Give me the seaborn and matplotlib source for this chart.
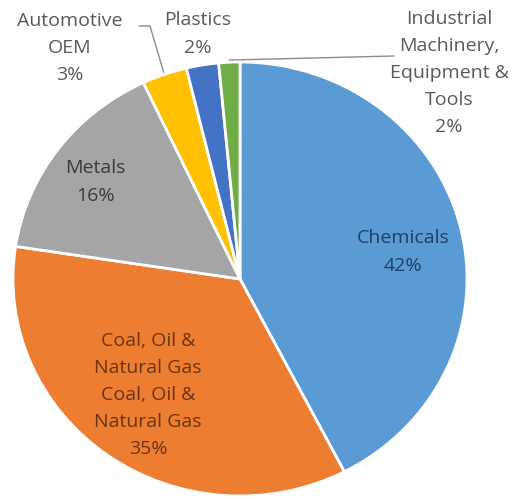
import matplotlib
matplotlib.use('Agg')
from matplotlib import pyplot as plt
import seaborn as sns
import numpy as np

# ---------- DATA ----------
sectors = ['Chemicals', 'Coal, Oil &\nNatural Gas\nCoal, Oil &\nNatural Gas', 'Metals',
           'Automotive\nOEM', 'Plastics', 'Industrial\nMachinery,\nEquipment &\nTools']
shares = [42.4, 35.0, 15.6, 3.2, 2.3, 1.5]
pct_labels = ['42%', '35%', '16%', '3%', '2%', '2%']
colors = ['#5B9BD5', '#ED7D31', '#A5A5A5', '#FFC000', '#4472C4', '#70AD47']

# ---------- STYLE ----------
sns.set_style('white')
plt.rcParams['font.family'] = ['Open Sans', 'DejaVu Sans']

W, H = 513, 499
fig = plt.figure(figsize=(W / 100, H / 100), dpi=100)
ax = fig.add_axes([0, 0, 1, 1])

# pie centre / radius in pixels (slightly squashed like the original)
cx, cy, rx, ry = 240, 279, 227, 217

wedges, _ = ax.pie(shares, colors=colors, startangle=90, counterclock=False,
                   wedgeprops=dict(edgecolor='white', linewidth=2))
ax.set_aspect('auto')
ax.set_xlim(-cx / rx, (W - cx) / rx)
ax.set_ylim(-(H - cy) / ry, cy / ry)
ax.axis('off')


def px(x, y):
    # pixel (from top-left) -> data coords
    return (x - cx) / rx, (cy - y) / ry


# label centres in pixels
label_pos = [(403, 252), (148, 395), (95, 182), (70, 48), (198, 34), (449, 73)]
text_cols = ['#1F3F66', '#6E3510', '#3A3A3A', '#595959', '#595959', '#595959']

for name, pct, pos, col in zip(sectors, pct_labels, label_pos, text_cols):
    x, y = px(*pos)
    ax.text(x, y, f'{name}\n{pct}', ha='center', va='center', fontsize=14,
            color=col, linespacing=1.65)


def rim_point(w):
    mid = np.deg2rad((w.theta1 + w.theta2) / 2)
    return np.cos(mid) * 1.01, np.sin(mid) * 1.01


# leader lines
lc = '#8C8C8C'
x0, y0 = rim_point(wedges[3])
ex, ey = px(150, 26)
sx, sy = px(139, 26)
ax.plot([x0, ex, sx], [y0, ey, sy], color=lc, lw=1)

x0, y0 = rim_point(wedges[5])
ex, ey = px(394, 56)
ax.plot([x0, ex], [y0, ey], color=lc, lw=1)

fig.savefig('out.png', dpi=100, facecolor='white')
